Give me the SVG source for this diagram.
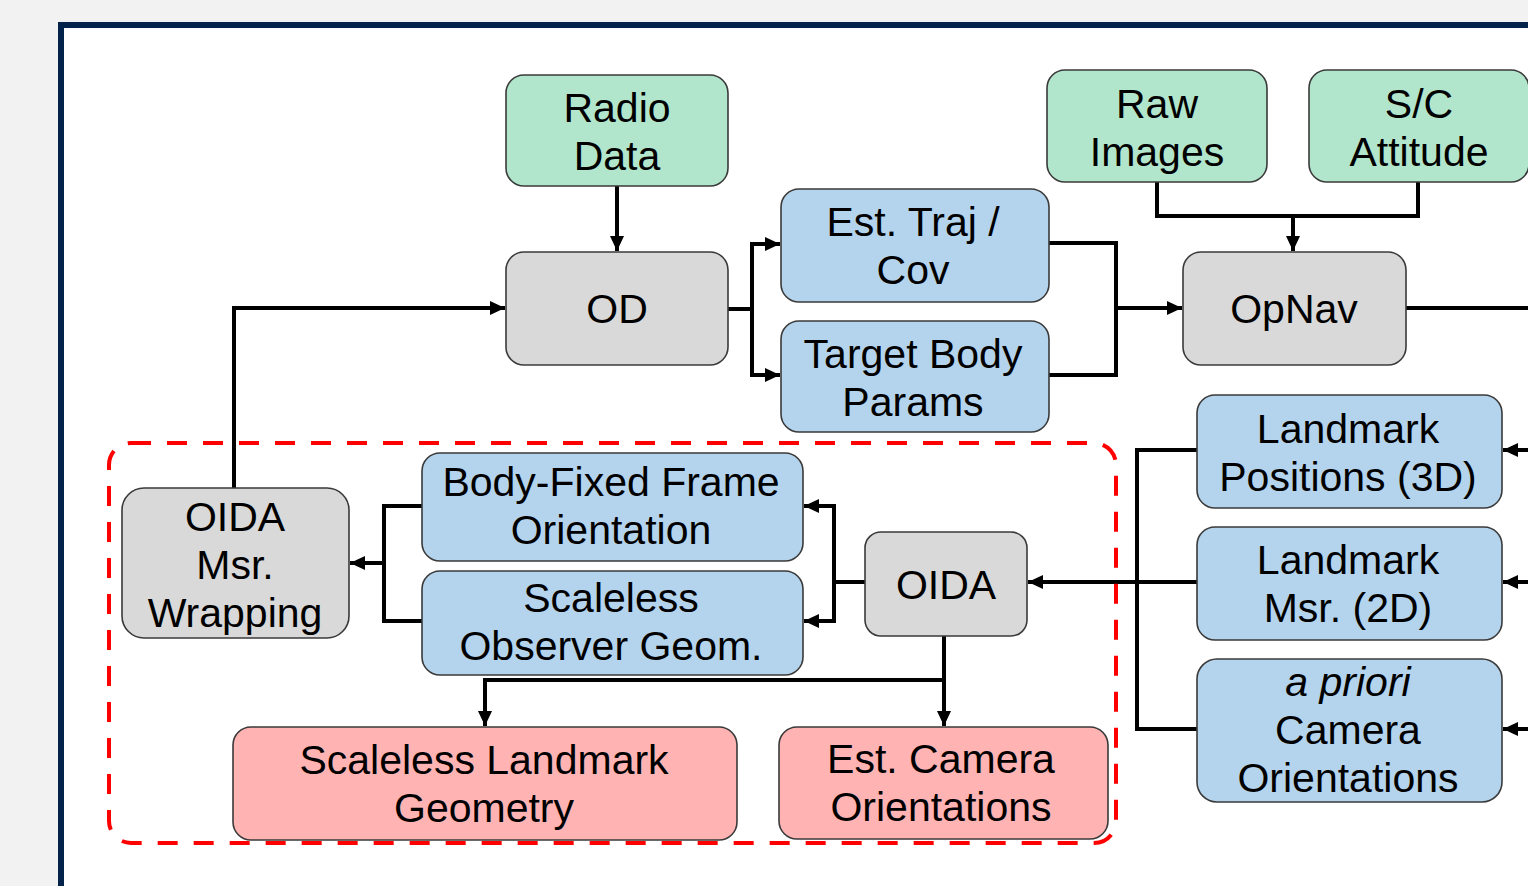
<svg xmlns="http://www.w3.org/2000/svg" width="1528" height="886" viewBox="0 0 1528 886">
  <style>
    .box { stroke: #3a3a3a; stroke-width: 1.6; }
    .input { fill: #b2e6cc; }
    .proc { fill: #d9d9d9; }
    .data { fill: #b4d4ed; }
    .out { fill: #ffb3b3; }
    .lbl { font-family: "Liberation Sans", Arial, sans-serif; font-size: 41px; fill: #000; text-anchor: middle; }
    .wire { fill: none; stroke: #000; stroke-width: 4; stroke-linejoin: miter; stroke-linecap: butt; }
    .arrow { marker-end: url(#head); }
  </style>
  <defs>
    <marker id="head" markerUnits="userSpaceOnUse" markerWidth="17" markerHeight="15" refX="15" refY="7" orient="auto">
      <path d="M0,0 L15,7 L0,14 Z" fill="#000"/>
    </marker>
  </defs>

  <!-- page background and framed panel -->
  <rect x="0" y="0" width="1528" height="886" fill="#f2f2f2"/>
  <rect x="61" y="25" width="1520" height="900" fill="#ffffff" stroke="#03234a" stroke-width="6"/>

  <!-- connectors -->
  <g id="connectors">
    <path class="wire arrow" d="M617,186 V251"/>
    <path class="wire arrow" d="M234,488 V308 H505"/>
    <path class="wire" d="M728,309 H752"/>
    <path class="wire arrow" d="M752,309 V244 H780"/>
    <path class="wire arrow" d="M752,309 V375 H780"/>
    <path class="wire" d="M1049,243 H1116 V375 H1049"/>
    <path class="wire arrow" d="M1116,308 H1182"/>
    <path class="wire" d="M1157,182 V216 H1418 V182"/>
    <path class="wire arrow" d="M1293,216 V251"/>
    <path class="wire" d="M1406,308 H1540"/>
    <path class="wire arrow" d="M1540,450 H1503"/>
    <path class="wire arrow" d="M1540,582 H1503"/>
    <path class="wire arrow" d="M1540,729 H1503"/>
    <path class="wire" d="M1197,450 H1137 V729 H1197"/>
    <path class="wire arrow" d="M1197,582 H1028"/>
    <path class="wire" d="M865,582 H834"/>
    <path class="wire arrow" d="M834,582 V506 H804"/>
    <path class="wire arrow" d="M834,582 V621 H804"/>
    <path class="wire" d="M422,506 H384 V621 H422"/>
    <path class="wire arrow" d="M384,563 H350"/>
    <path class="wire arrow" d="M944,636 V726"/>
    <path class="wire arrow" d="M944,680 H485 V726"/>
  </g>

  <!-- inputs -->
  <g id="radio-data">
    <rect class="box input" x="506" y="75" width="222" height="111" rx="18"/>
    <text class="lbl" x="617" y="122">Radio</text>
    <text class="lbl" x="617" y="170">Data</text>
  </g>
  <g id="raw-images">
    <rect class="box input" x="1047" y="70" width="220" height="112" rx="18"/>
    <text class="lbl" x="1157" y="118">Raw</text>
    <text class="lbl" x="1157" y="166">Images</text>
  </g>
  <g id="sc-attitude">
    <rect class="box input" x="1309" y="70" width="220" height="112" rx="18"/>
    <text class="lbl" x="1419" y="118">S/C</text>
    <text class="lbl" x="1419" y="166">Attitude</text>
  </g>

  <!-- processing steps -->
  <g id="od">
    <rect class="box proc" x="506" y="252" width="222" height="113" rx="18"/>
    <text class="lbl" x="617" y="323">OD</text>
  </g>
  <g id="opnav">
    <rect class="box proc" x="1183" y="252" width="223" height="113" rx="18"/>
    <text class="lbl" x="1294" y="323">OpNav</text>
  </g>
  <g id="oida-msr-wrapping">
    <rect class="box proc" x="122" y="488" width="227" height="150" rx="22"/>
    <text class="lbl" x="235" y="531">OIDA</text>
    <text class="lbl" x="235" y="579">Msr.</text>
    <text class="lbl" x="235" y="627">Wrapping</text>
  </g>
  <g id="oida">
    <rect class="box proc" x="865" y="532" width="162" height="104" rx="16"/>
    <text class="lbl" x="946" y="599">OIDA</text>
  </g>

  <!-- intermediate products -->
  <g id="est-traj-cov">
    <rect class="box data" x="781" y="189" width="268" height="113" rx="18"/>
    <text class="lbl" x="913" y="236">Est. Traj /</text>
    <text class="lbl" x="913" y="284">Cov</text>
  </g>
  <g id="target-body-params">
    <rect class="box data" x="781" y="321" width="268" height="111" rx="18"/>
    <text class="lbl" x="913" y="368">Target Body</text>
    <text class="lbl" x="913" y="416">Params</text>
  </g>
  <g id="landmark-positions">
    <rect class="box data" x="1197" y="395" width="305" height="113" rx="18"/>
    <text class="lbl" x="1348" y="443">Landmark</text>
    <text class="lbl" x="1348" y="491">Positions (3D)</text>
  </g>
  <g id="landmark-msr">
    <rect class="box data" x="1197" y="527" width="305" height="113" rx="18"/>
    <text class="lbl" x="1348" y="574">Landmark</text>
    <text class="lbl" x="1348" y="622">Msr. (2D)</text>
  </g>
  <g id="apriori-camera">
    <rect class="box data" x="1197" y="659" width="305" height="143" rx="20"/>
    <text class="lbl" x="1348" y="696" font-style="italic">a priori</text>
    <text class="lbl" x="1348" y="744">Camera</text>
    <text class="lbl" x="1348" y="792">Orientations</text>
  </g>
  <g id="body-fixed-frame">
    <rect class="box data" x="422" y="453" width="381" height="108" rx="18"/>
    <text class="lbl" x="611" y="496">Body-Fixed Frame</text>
    <text class="lbl" x="611" y="544">Orientation</text>
  </g>
  <g id="scaleless-observer">
    <rect class="box data" x="422" y="571" width="381" height="104" rx="18"/>
    <text class="lbl" x="611" y="612">Scaleless</text>
    <text class="lbl" x="611" y="660">Observer Geom.</text>
  </g>

  <!-- outputs -->
  <g id="scaleless-landmark-geometry">
    <rect class="box out" x="233" y="727" width="504" height="113" rx="18"/>
    <text class="lbl" x="484" y="774">Scaleless Landmark</text>
    <text class="lbl" x="484" y="822">Geometry</text>
  </g>
  <g id="est-camera-orientations">
    <rect class="box out" x="779" y="727" width="329" height="112" rx="18"/>
    <text class="lbl" x="941" y="773">Est. Camera</text>
    <text class="lbl" x="941" y="821">Orientations</text>
  </g>

  <!-- OIDA boundary -->
  <rect id="oida-boundary" x="109" y="443" width="1007" height="400" rx="22" fill="none" stroke="#ff0000" stroke-width="4" stroke-dasharray="20 16"/>
</svg>
